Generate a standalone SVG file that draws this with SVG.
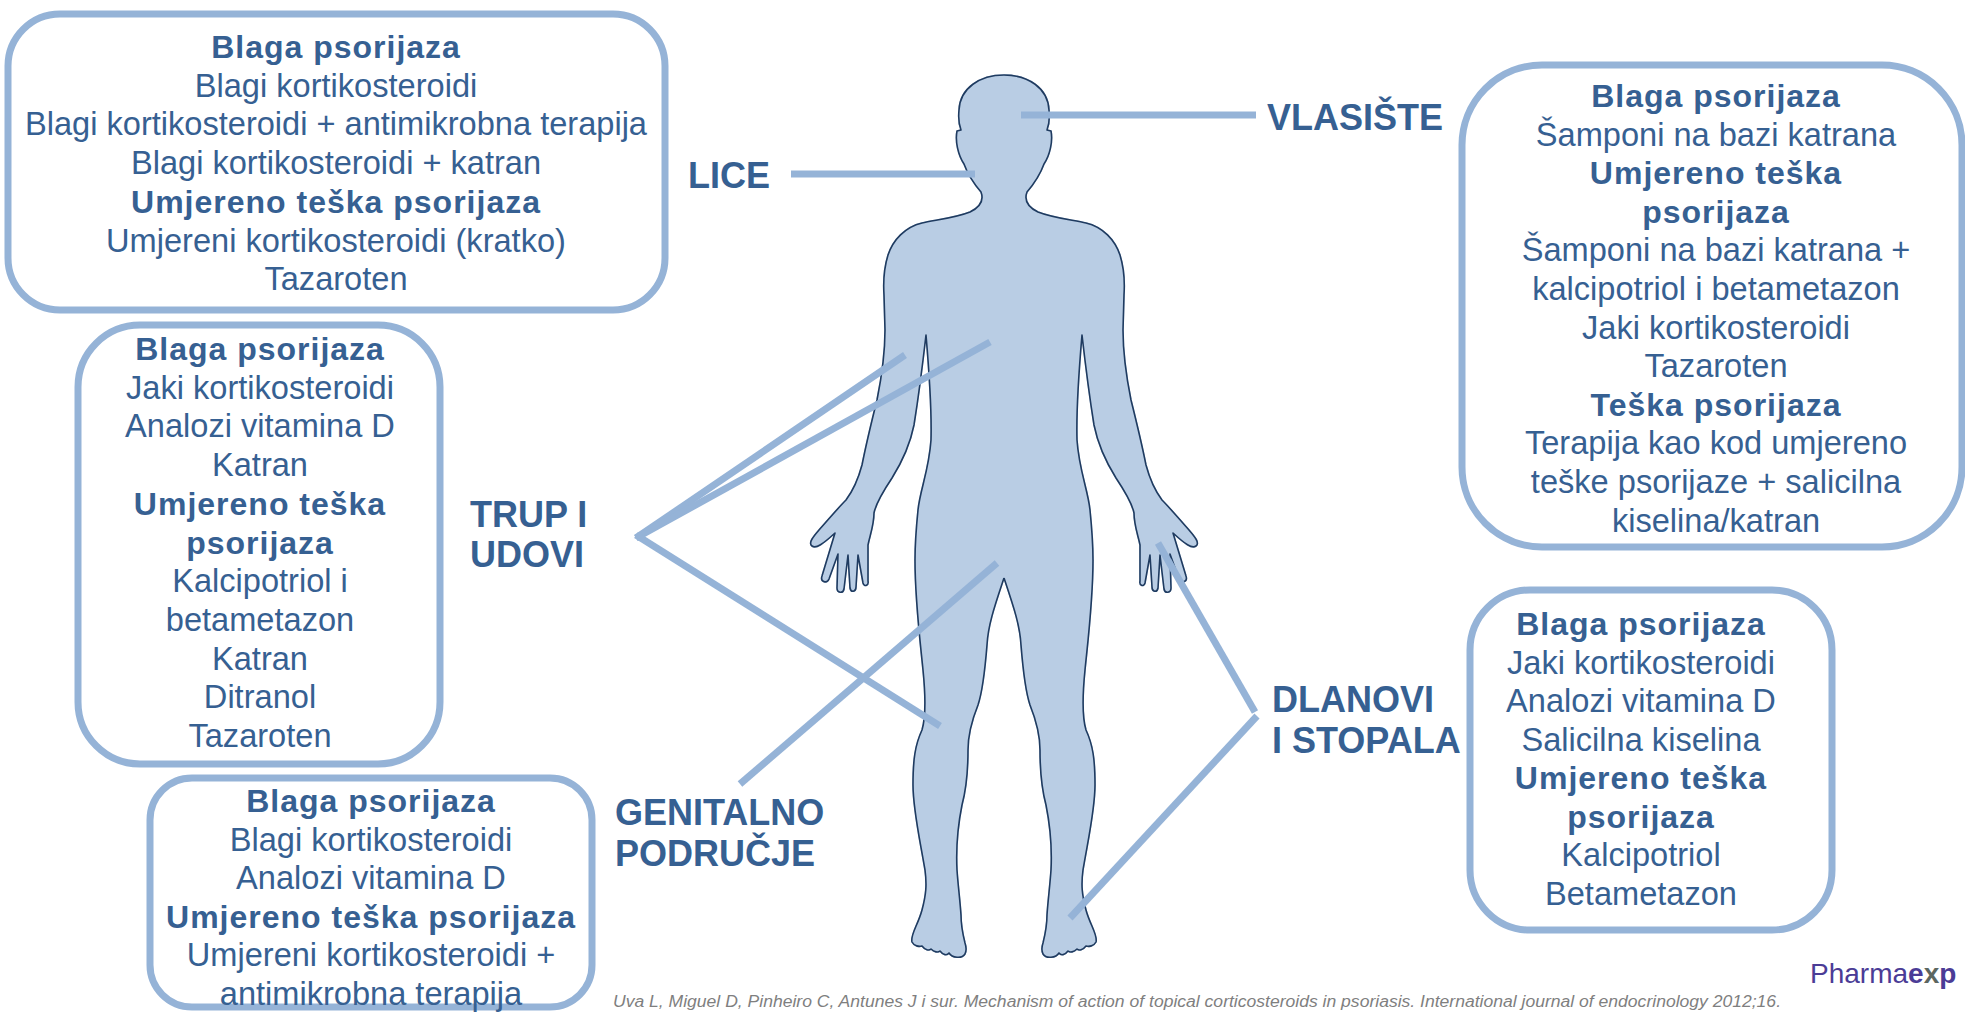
<svg xmlns="http://www.w3.org/2000/svg" xmlns:xlink="http://www.w3.org/1999/xlink" width="1965" height="1014" viewBox="0 0 1965 1014">
  <style>
    .box { fill: #ffffff; stroke: #95b3d7; stroke-width: 7; }
    .t { font-family: "Liberation Sans", Arial, sans-serif; font-size: 32.6px; fill: #366092; text-anchor: middle; }
    .b { font-size: 32px; font-weight: bold; letter-spacing: 1px; }
    .lbl { font-family: "Liberation Sans", Arial, sans-serif; font-size: 36px; font-weight: bold; fill: #366092; }
    .con { stroke: #95b3d7; stroke-width: 7; fill: none; stroke-linecap: butt; }
    .bodyfill { fill: #b9cde4; stroke: #b9cde4; stroke-width: 1.5; }
    .bodyline { fill: none; stroke: #1f3b60; stroke-width: 1.6; stroke-linejoin: round; }
    .cite { font-family: "Liberation Sans", Arial, sans-serif; font-size: 16px; font-style: italic; fill: #7f7f7f; }
  </style>
  <defs>
    <!-- left half of the figure outline, from crown of the head down to the crotch -->
    <path id="half" d="M 1004 75
      C 980 75, 960 88, 959 110
      C 958 120, 959 125, 961 130
      L 957 131
      C 955 141, 958 155, 964 164
      C 968 175, 975 185, 981 192
      C 984 200, 980 207, 970 212
      C 955 218, 935 220, 922 223
      C 905 227, 893 240, 888 255
      C 884 268, 883 280, 884 295
      L 885 330
      C 885 355, 882 375, 877 400
      C 872 420, 866 445, 862 465
      C 858 480, 852 492, 846 500
      C 838 508, 828 520, 819 530
      C 813 537, 808 543, 812 546
      C 816 549, 823 544, 835 533
      L 822 576
      C 820 582, 827 584, 829 579
      L 838 554
      L 837 588
      C 837 593, 843 594, 844 589
      L 848 555
      L 850 588
      C 851 593, 856 592, 856 587
      L 858 555
      L 863 583
      C 864 587, 869 586, 868 581
      L 868 545
      C 870 535, 874 525, 874 513
      C 876 503, 884 490, 892 478
      C 902 462, 910 445, 914 425
      C 918 400, 922 370, 926 335
      C 929 370, 932 405, 931 440
      C 929 470, 920 490, 918 510
      C 916 530, 915 550, 915 560
      C 915 600, 920 640, 923 670
      C 926 700, 925 720, 922 730
      C 915 745, 913 760, 913 785
      C 913 810, 920 840, 925 870
      C 927 885, 926 895, 922 910
      C 918 925, 910 935, 912 942
      C 914 946, 919 947, 922 946
      C 925 950, 929 951, 931 949
      C 934 952, 938 953, 940 951
      C 943 955, 947 956, 949 953
      C 952 958, 962 959, 965 954
      C 967 950, 966 946, 965 943
      C 963 935, 961 925, 961 915
      C 960 900, 958 885, 957 870
      C 956 850, 958 825, 962 805
      C 966 790, 968 770, 968 750
      C 968 735, 972 720, 978 705
      C 983 690, 985 670, 987 645
      C 988 625, 995 605, 1004 578"/>
  </defs>

  <!-- human figure -->
  <g id="figure">
    <use xlink:href="#half" class="bodyfill"/>
    <use xlink:href="#half" class="bodyfill" transform="translate(2008,0) scale(-1,1)"/>
    <use xlink:href="#half" class="bodyline"/>
    <use xlink:href="#half" class="bodyline" transform="translate(2008,0) scale(-1,1)"/>
  </g>

  <!-- connectors from body regions to their labels -->
  <g id="connectors">
    <line class="con" x1="791" y1="174" x2="975" y2="174"/>
    <line class="con" x1="1021" y1="115" x2="1256" y2="115"/>
    <line class="con" x1="636" y1="538" x2="905" y2="355"/>
    <line class="con" x1="636" y1="538" x2="990" y2="342"/>
    <line class="con" x1="636" y1="535" x2="940" y2="726"/>
    <line class="con" x1="997" y1="563" x2="740" y2="784"/>
    <line class="con" x1="1158" y1="543" x2="1255" y2="712"/>
    <line class="con" x1="1257" y1="716" x2="1070" y2="918"/>
  </g>

  <!-- region labels -->
  <g id="label-lice"><text class="lbl" x="688" y="188">LICE</text></g>
  <g id="label-vlasiste"><text class="lbl" x="1267" y="130">VLASIŠTE</text></g>
  <g id="label-trup"><text class="lbl" x="470" y="527">TRUP I</text><text class="lbl" x="470" y="567">UDOVI</text></g>
  <g id="label-genitalno"><text class="lbl" x="615" y="825">GENITALNO</text><text class="lbl" x="615" y="866">PODRUČJE</text></g>
  <g id="label-dlanovi"><text class="lbl" x="1272" y="712">DLANOVI</text><text class="lbl" x="1272" y="753">I STOPALA</text></g>

  <!-- treatment boxes -->
  <g id="box-lice">
    <rect class="box" x="8" y="14" width="657" height="296" rx="52"/>
    <text class="t b" x="336" y="58">Blaga psorijaza</text>
    <text class="t" x="336" y="96.7">Blagi kortikosteroidi</text>
    <text class="t" x="336" y="135.4">Blagi kortikosteroidi + antimikrobna terapija</text>
    <text class="t" x="336" y="174">Blagi kortikosteroidi + katran</text>
    <text class="t b" x="336" y="212.8">Umjereno teška psorijaza</text>
    <text class="t" x="336" y="251.5">Umjereni kortikosteroidi (kratko)</text>
    <text class="t" x="336" y="290">Tazaroten</text>
  </g>

  <g id="box-trup">
    <rect class="box" x="78" y="325" width="362" height="439" rx="62"/>
    <text class="t b" x="260" y="360">Blaga psorijaza</text>
    <text class="t" x="260" y="398.7">Jaki kortikosteroidi</text>
    <text class="t" x="260" y="437.4">Analozi vitamina D</text>
    <text class="t" x="260" y="476">Katran</text>
    <text class="t b" x="260" y="514.8">Umjereno teška</text>
    <text class="t b" x="260" y="553.5">psorijaza</text>
    <text class="t" x="260" y="592">Kalcipotriol i</text>
    <text class="t" x="260" y="631">betametazon</text>
    <text class="t" x="260" y="669.6">Katran</text>
    <text class="t" x="260" y="708">Ditranol</text>
    <text class="t" x="260" y="747">Tazaroten</text>
  </g>

  <g id="box-genitalno">
    <rect class="box" x="150" y="778" width="442" height="229" rx="42"/>
    <text class="t b" x="371" y="812">Blaga psorijaza</text>
    <text class="t" x="371" y="850.5">Blagi kortikosteroidi</text>
    <text class="t" x="371" y="889">Analozi vitamina D</text>
    <text class="t b" x="371" y="927.5">Umjereno teška psorijaza</text>
    <text class="t" x="371" y="966">Umjereni kortikosteroidi +</text>
    <text class="t" x="371" y="1004.5">antimikrobna terapija</text>
  </g>

  <g id="box-vlasiste">
    <rect class="box" x="1462" y="65" width="500" height="482" rx="80"/>
    <text class="t b" x="1716" y="107">Blaga psorijaza</text>
    <text class="t" x="1716" y="145.6">Šamponi na bazi katrana</text>
    <text class="t b" x="1716" y="184.2">Umjereno teška</text>
    <text class="t b" x="1716" y="222.8">psorijaza</text>
    <text class="t" x="1716" y="261.4">Šamponi na bazi katrana +</text>
    <text class="t" x="1716" y="300">kalcipotriol i betametazon</text>
    <text class="t" x="1716" y="338.6">Jaki kortikosteroidi</text>
    <text class="t" x="1716" y="377.2">Tazaroten</text>
    <text class="t b" x="1716" y="415.8">Teška psorijaza</text>
    <text class="t" x="1716" y="454.4">Terapija kao kod umjereno</text>
    <text class="t" x="1716" y="493">teške psorijaze + salicilna</text>
    <text class="t" x="1716" y="531.6">kiselina/katran</text>
  </g>

  <g id="box-dlanovi">
    <rect class="box" x="1470" y="590" width="362" height="340" rx="60"/>
    <text class="t b" x="1641" y="635">Blaga psorijaza</text>
    <text class="t" x="1641" y="673.5">Jaki kortikosteroidi</text>
    <text class="t" x="1641" y="712">Analozi vitamina D</text>
    <text class="t" x="1641" y="750.5">Salicilna kiselina</text>
    <text class="t b" x="1641" y="789">Umjereno teška</text>
    <text class="t b" x="1641" y="827.5">psorijaza</text>
    <text class="t" x="1641" y="866">Kalcipotriol</text>
    <text class="t" x="1641" y="904.5">Betametazon</text>
  </g>

  <!-- reference line and brand mark -->
  <g id="citation">
    <text class="cite" x="613" y="1007" textLength="1168" lengthAdjust="spacingAndGlyphs">Uva L, Miguel D, Pinheiro C, Antunes J i sur. Mechanism of action of topical corticosteroids in psoriasis. International journal of endocrinology 2012;16.</text>
  </g>
  <g id="logo">
    <text x="1810" y="983" font-family="'Liberation Sans', Arial, sans-serif" font-size="28" fill="#4b3c96">Pharma<tspan font-weight="bold">e</tspan><tspan font-weight="bold" fill="#5c6660">x</tspan><tspan font-weight="bold">p</tspan></text>
  </g>
</svg>
